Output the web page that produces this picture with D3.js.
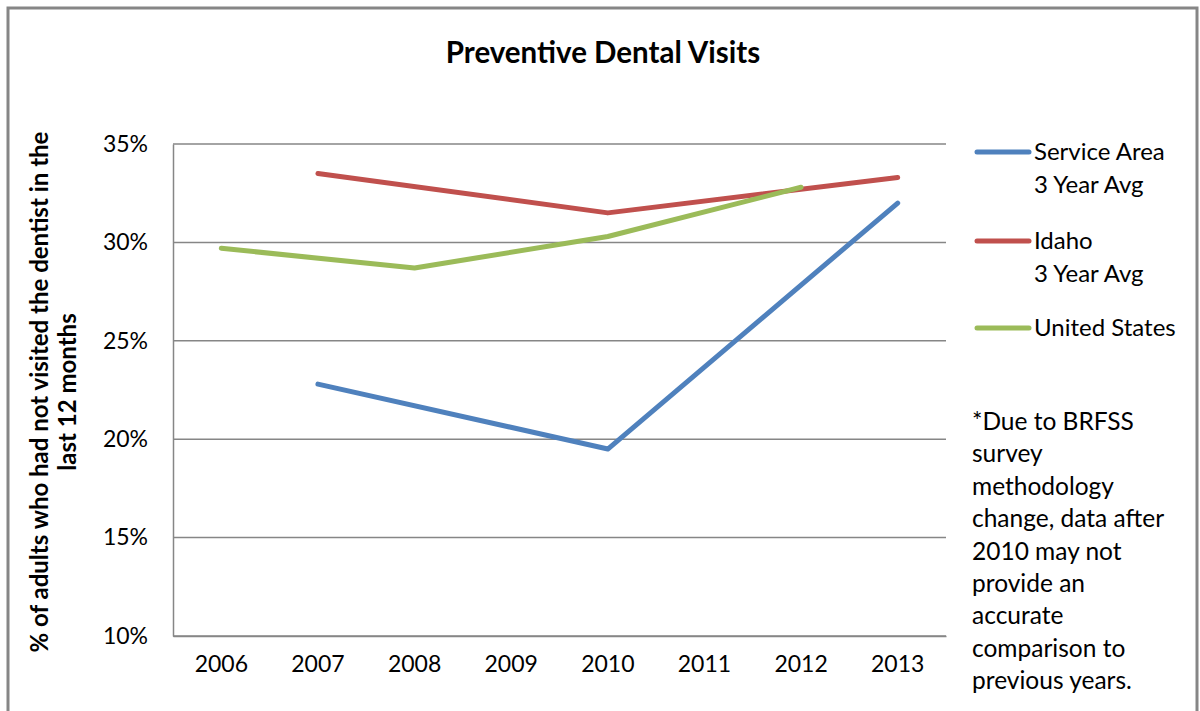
<!DOCTYPE html>
<html><head><meta charset="utf-8">
<script src="https://cdn.jsdelivr.net/npm/d3@7"></script>
<style>body{margin:0;background:#fff}svg{display:block}text{font-family:Lato,"Open Sans",sans-serif;fill:#000}</style>
</head><body>
<svg id="c" width="1200" height="711"></svg>
<script>
const years = ["2006","2007","2008","2009","2010","2011","2012","2013"];
const serviceArea = [null, 22.8, null, null, 19.5, null, null, 32.0];
const idaho = [null, 33.5, null, null, 31.5, null, null, 33.3];
const unitedStates = [29.7, null, 28.7, null, 30.3, null, 32.8, null];
const yTicks = [10, 15, 20, 25, 30, 35];
const seriesNames = [["Service Area","3 Year Avg"],["Idaho","3 Year Avg"],["United States"]];
const seriesColors = ["#4F81BD","#C0504D","#9BBB59"];
const noteLines = ["*Due to BRFSS","survey","methodology","change, data after","2010 may not","provide an","accurate","comparison to","previous years."];

const svg = d3.select("#c");
// outer frame
svg.append("rect").attr("x",8).attr("y",8).attr("width",1189).attr("height",720)
  .attr("fill","none").attr("stroke","#868686").attr("stroke-width",3);

const x = d3.scaleBand().domain(years).range([173,946]).padding(0);
const y = d3.scaleLinear().domain([10,35]).range([636,144]);

// gridlines
svg.append("g").selectAll("line").data(yTicks).join("line")
  .attr("x1",173).attr("x2",946).attr("y1",d=>y(d)).attr("y2",d=>y(d))
  .attr("stroke","#868686").attr("stroke-width",1.5);

// axes
const yAxis = d3.axisLeft(y).tickValues(yTicks).tickSize(0).tickPadding(25).tickFormat(d=>d+"%");
const gy = svg.append("g").attr("transform","translate(173,0)").call(yAxis);
gy.select(".domain").attr("stroke","#868686").attr("stroke-width",1.5);
gy.selectAll("text").attr("font-size",23).attr("font-family","Lato");

const xAxis = d3.axisBottom(x).tickSize(0).tickPadding(20);
const gx = svg.append("g").attr("transform","translate(0,636)").call(xAxis);
gx.select(".domain").attr("stroke","#868686").attr("stroke-width",1.5);
gx.selectAll("text").attr("font-size",23).attr("font-family","Lato");

// series lines
const allSeries = [serviceArea, idaho, unitedStates];
const line = d3.line().x(d=>x(d.year)+x.bandwidth()/2).y(d=>y(d.v));
allSeries.forEach((s,i)=>{
  const pts = years.map((yr,j)=>({year:yr,v:s[j]})).filter(d=>d.v!=null);
  svg.append("path").datum(pts).attr("d",line).attr("fill","none")
    .attr("stroke",seriesColors[i]).attr("stroke-width",5)
    .attr("stroke-linecap","round").attr("stroke-linejoin","round");
});

// title
svg.append("text").attr("x",603).attr("y",63).attr("text-anchor","middle")
  .attr("font-size",29.5).attr("font-weight","bold").text("Preventive Dental Visits");

// y axis title
const yt = svg.append("text").attr("transform","translate(0,392) rotate(-90)")
  .attr("text-anchor","middle").attr("font-size",24).attr("font-weight","bold");
yt.append("tspan").attr("x",0).attr("y",48).text("% of adults who had not visited the dentist in the");
yt.append("tspan").attr("x",0).attr("y",76).text("last 12 months");

// legend
const legY = [152, 241, 328];
seriesNames.forEach((nm,i)=>{
  svg.append("line").attr("x1",977).attr("x2",1029).attr("y1",legY[i]).attr("y2",legY[i])
    .attr("stroke",seriesColors[i]).attr("stroke-width",5).attr("stroke-linecap","round");
  nm.forEach((t,k)=>{
    svg.append("text").attr("x",1034).attr("y",legY[i]+8+k*33).attr("font-size",24).text(t);
  });
});

// note
noteLines.forEach((t,k)=>{
  svg.append("text").attr("x",972).attr("y",430+k*32.4).attr("font-size",24.5).text(t);
});
</script>
</body></html>
